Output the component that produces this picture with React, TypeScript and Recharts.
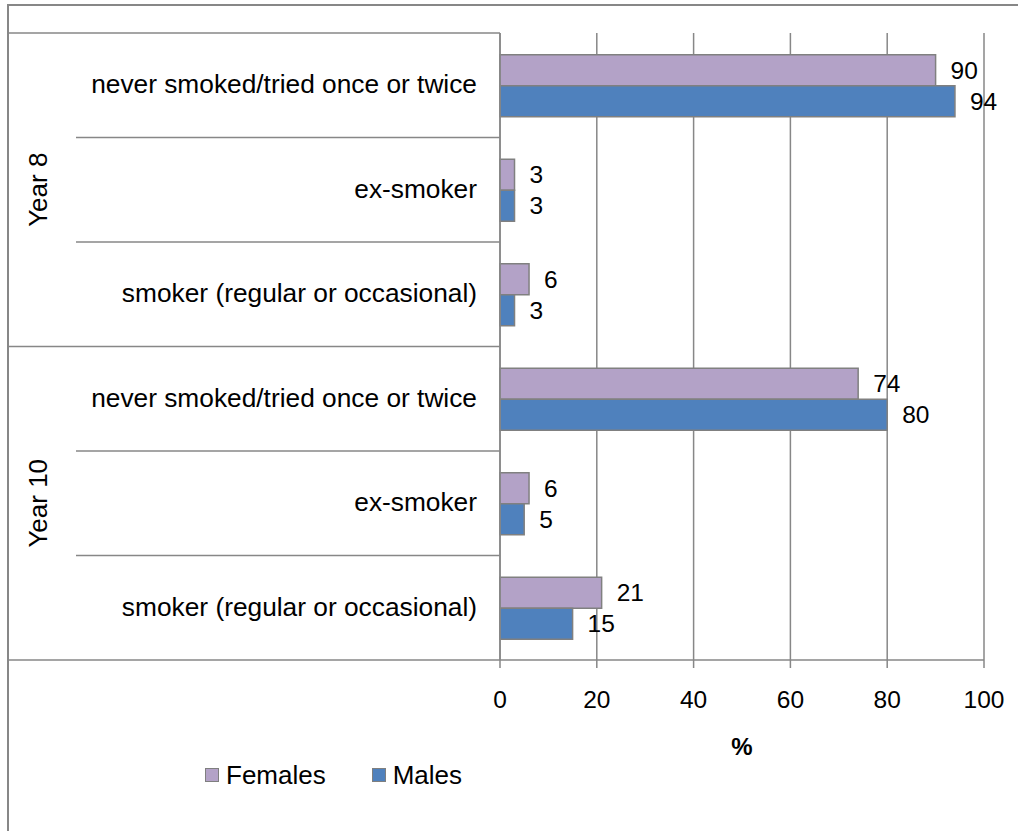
import React from 'react';
import { BarChart, Bar, XAxis, YAxis, CartesianGrid, Legend, LabelList } from 'recharts';

const groups = ['Year 8', 'Year 8', 'Year 8', 'Year 10', 'Year 10', 'Year 10'];
const statuses = [
  'never smoked/tried once or twice',
  'ex-smoker',
  'smoker (regular or occasional)',
  'never smoked/tried once or twice',
  'ex-smoker',
  'smoker (regular or occasional)',
];
const females = [90, 3, 6, 74, 6, 21];
const males = [94, 3, 3, 80, 5, 15];
const xTicks = [0, 20, 40, 60, 80, 100];
const seriesNames = ['Females', 'Males'];
const seriesColors = ['#B3A2C7', '#4F81BD'];

const data = statuses.map((s, i) => ({
  key: `${i}`,
  group: groups[i],
  status: s,
  Females: females[i],
  Males: males[i],
}));

const W = 1018;
const H = 831;
const MARGIN = { top: 33, right: 34, bottom: 36, left: 8 };
const Y_AXIS_W = 492;
const LINE = '#878787';
const FONT = '"Liberation Sans", Arial, sans-serif';
const TICK_MARGIN = 23;
const PLOT_H_FALLBACK = (H - MARGIN.top - MARGIN.bottom - 40 - 95) / data.length / 2;

const CategoryTick = (props: any) => {
  const { x, y, payload, index } = props;
  const idx = typeof index === 'number' ? index : Number(payload.value);
  const half = payload && payload.offset ? payload.offset : PLOT_H_FALLBACK;
  const axisX = x + TICK_MARGIN;
  const frameX = MARGIN.left;
  const innerX = 76;
  const row = data[idx];
  const firstInGroup = idx === 0 || data[idx - 1].group !== row.group;
  const last = idx === data.length - 1;
  let groupCount = 0;
  let groupStart = idx;
  while (groupStart > 0 && data[groupStart - 1].group === row.group) groupStart--;
  for (let j = groupStart; j < data.length && data[j].group === row.group; j++) groupCount++;
  const groupCenter = y + ((groupStart + (groupCount - 1) / 2) - idx) * 2 * half;
  return (
    <g>
      <line
        x1={firstInGroup ? frameX : innerX}
        x2={axisX}
        y1={y - half}
        y2={y - half}
        stroke={LINE}
        strokeWidth={1.5}
      />
      {last && (
        <line x1={frameX} x2={axisX} y1={y + half} y2={y + half} stroke={LINE} strokeWidth={1.5} />
      )}
      <text x={x} y={y - 1} textAnchor="end" dominantBaseline="central" fontSize={26.3} fill="#000" fontFamily={FONT}>
        {row.status}
      </text>
      {firstInGroup && (
        <text
          x={38}
          y={groupCenter}
          textAnchor="middle"
          dominantBaseline="central"
          fontSize={26}
          fill="#000"
          fontFamily={FONT}
          transform={`rotate(-90, 38, ${groupCenter})`}
        >
          {row.group}
        </text>
      )}
    </g>
  );
};

const renderLegend = (props: any) => {
  const payload = props.payload || [];
  return (
    <div
      style={{
        height: 40,
        display: 'flex',
        alignItems: 'center',
        paddingLeft: 197,
        fontFamily: FONT,
        fontSize: 26,
        color: '#000',
      }}
    >
      {payload.map((p: any) => (
        <div key={p.value} style={{ display: 'flex', alignItems: 'center', marginRight: 46 }}>
          <span
            style={{
              display: 'inline-block',
              width: 12,
              height: 12,
              background: p.color,
              border: '1.5px solid #7f7f7f',
              marginRight: 7,
            }}
          />
          <span>{p.value}</span>
        </div>
      ))}
    </div>
  );
};

export default function App() {
  return (
    <div style={{ position: 'absolute', left: 0, top: 0, width: W, height: H, background: '#fff' }}>
      <div
        style={{
          position: 'absolute',
          left: 7,
          top: 4,
          width: W - 7,
          height: H - 4,
          borderLeft: `2px solid ${LINE}`,
          borderTop: `2px solid ${LINE}`,
          boxSizing: 'border-box',
        }}
      />
      <div style={{ position: 'absolute', left: 0, top: 0 }}>
        <BarChart
          width={W}
          height={H}
          data={data}
          layout="vertical"
          margin={MARGIN}
          barCategoryGap="20.8%"
          barGap={0}
          style={{ fontFamily: FONT }}
        >
          <CartesianGrid horizontal={false} vertical stroke={LINE} strokeWidth={1.5} />
          <XAxis
            type="number"
            domain={[0, 100]}
            ticks={xTicks}
            height={95}
            axisLine={{ stroke: LINE, strokeWidth: 1.5 }}
            tickLine={{ stroke: LINE, strokeWidth: 1.5 }}
            tickSize={8}
            tickMargin={23}
            tick={{ fill: '#000', fontSize: 24.5, fontFamily: FONT }}
            label={{
              value: '%',
              position: 'insideBottom',
              offset: 0,
              style: { fontWeight: 'bold', fontSize: 24, fill: '#000', fontFamily: FONT },
            }}
          />
          <YAxis
            type="category"
            dataKey="key"
            width={Y_AXIS_W}
            axisLine={{ stroke: LINE, strokeWidth: 1.5 }}
            tickLine={false}
            tickSize={0}
            tickMargin={TICK_MARGIN}
            interval={0}
            tick={<CategoryTick />}
          />
          <Legend verticalAlign="bottom" height={40} content={renderLegend} />
          {seriesNames.map((name, i) => (
            <Bar
              key={name}
              dataKey={name}
              name={name}
              fill={seriesColors[i]}
              stroke="#808080"
              strokeWidth={1.5}
              isAnimationActive={false}
            >
              <LabelList
                dataKey={name}
                position="right"
                offset={15}
                fill="#000"
                fontSize={24.5}
                fontFamily={FONT}
              />
            </Bar>
          ))}
        </BarChart>
      </div>
    </div>
  );
}
